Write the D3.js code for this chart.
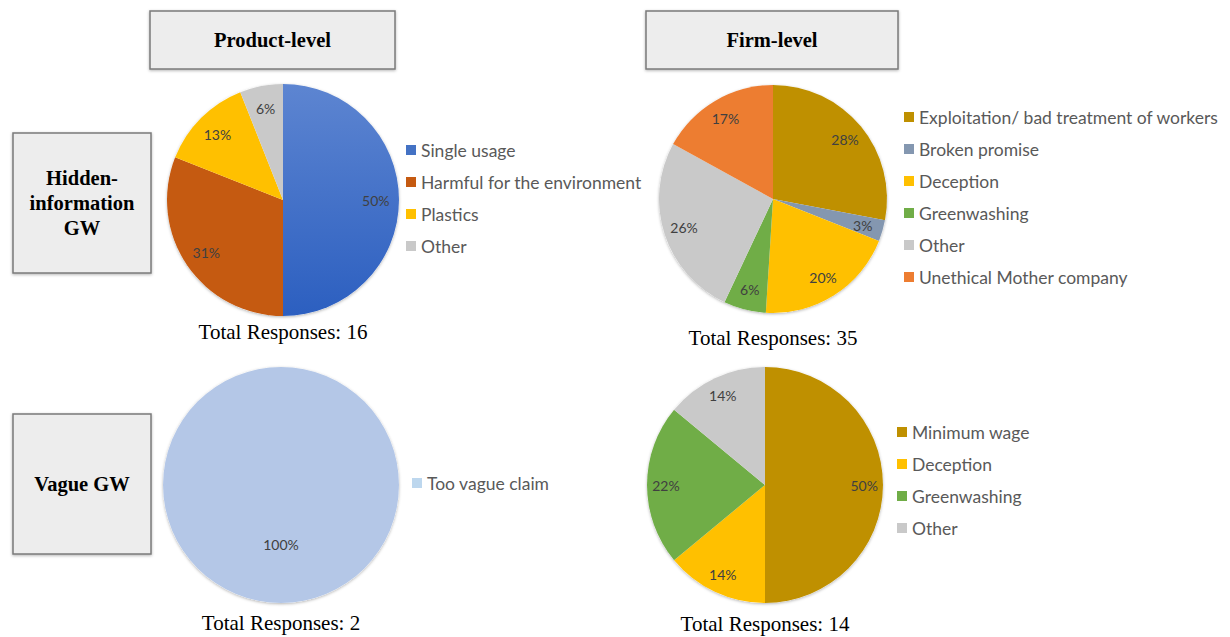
<!DOCTYPE html>
<html>
<meta charset="utf-8">
<style>
  body { margin: 0; background: #fff; }
  .box { fill: #ededed; stroke: #7a7a7a; stroke-width: 1.5; }
  .boxText { font-family: "Liberation Serif", serif; font-weight: bold; font-size: 20.5px; fill: #000; }
  .total { font-family: "Liberation Serif", serif; font-size: 21px; fill: #000; }
  .pct { font-family: Lato, sans-serif; font-size: 14px; fill: #404040; }
  .leg { font-family: Lato, sans-serif; font-size: 17.5px; fill: #595959; }
</style>
<body>
<script src="https://d3js.org/d3.v7.min.js"></script>
<script>
  // product-level, hidden information
  let hiddenProductLabels = ["Single usage", "Harmful for the environment", "Plastics", "Other"];
  let hiddenProductValues = [50, 31, 13, 6];
  let hiddenProductColors = ["url(#blueGrad)", "#c55a11", "#ffc000", "#c9c9c9"];

  // firm-level, hidden information
  let hiddenFirmLabels = ["Exploitation/ bad treatment of workers", "Broken promise", "Deception", "Greenwashing", "Other", "Unethical Mother company"];
  let hiddenFirmValues = [28, 3, 20, 6, 26, 17];
  let hiddenFirmColors = ["#bf9000", "#8497b0", "#ffc000", "#70ad47", "#c9c9c9", "#ed7d31"];

  // product-level, vague
  let vagueProductLabels = ["Too vague claim"];
  let vagueProductValues = [100];
  let vagueProductColors = ["#b4c7e7"];

  // firm-level, vague
  let vagueFirmLabels = ["Minimum wage", "Deception", "Greenwashing", "Other"];
  let vagueFirmValues = [50, 14, 22, 14];
  let vagueFirmColors = ["#bf9000", "#ffc000", "#70ad47", "#c9c9c9"];

  let totals = [16, 35, 2, 14];
  let columnTitles = ["Product-level", "Firm-level"];
  let rowTitles = [["Hidden-", "information", "GW"], ["Vague GW"]];

  let width = 1230, height = 637;

  let svg = d3.select("body").append("svg")
    .attr("width", width)
    .attr("height", height);

  let defs = svg.append("defs");
  let grad = defs.append("linearGradient").attr("id", "blueGrad")
    .attr("x1", 0).attr("y1", 0).attr("x2", 0).attr("y2", 1);
  grad.append("stop").attr("offset", "0%").attr("stop-color", "#5d85d1");
  grad.append("stop").attr("offset", "100%").attr("stop-color", "#2c5fc0");

  let shadow = defs.append("filter").attr("id", "shadow")
    .attr("x", "-10%").attr("y", "-10%").attr("width", "120%").attr("height", "120%");
  shadow.append("feDropShadow").attr("dx", 0).attr("dy", 1).attr("stdDeviation", 1.5)
    .attr("flood-color", "#000").attr("flood-opacity", 0.3);

  // header boxes
  let headers = [
    { x: 150, y: 11, w: 245, h: 58, lines: [columnTitles[0]] },
    { x: 646, y: 11, w: 252, h: 58, lines: [columnTitles[1]] },
    { x: 13, y: 133, w: 138, h: 140, lines: rowTitles[0] },
    { x: 13, y: 414, w: 138, h: 140, lines: rowTitles[1] }
  ];

  headers.forEach(b => {
    svg.append("rect").attr("class", "box")
      .attr("x", b.x).attr("y", b.y).attr("width", b.w).attr("height", b.h)
      .attr("filter", "url(#shadow)");
    let lh = 25;
    let y0 = b.y + b.h / 2 - (b.lines.length - 1) * lh / 2;
    b.lines.forEach((t, i) => {
      svg.append("text").attr("class", "boxText")
        .attr("x", b.x + b.w / 2).attr("y", y0 + i * lh)
        .attr("text-anchor", "middle").attr("dominant-baseline", "central")
        .text(t);
    });
  });

  let pies = [
    { cx: 283, cy: 200, r: 116, labels: hiddenProductLabels, values: hiddenProductValues, colors: hiddenProductColors,
      legX: 406, legY: 150, total: totals[0], totalY: 332, lab: 0.8 },
    { cx: 773, cy: 199, r: 114, labels: hiddenFirmLabels, values: hiddenFirmValues, colors: hiddenFirmColors,
      legX: 904, legY: 117, total: totals[1], totalY: 338, lab: 0.82 },
    { cx: 281, cy: 485, r: 118, labels: vagueProductLabels, values: vagueProductValues, colors: vagueProductColors,
      legX: 412, legY: 483, total: totals[2], totalY: 623, lab: 0.5 },
    { cx: 765, cy: 485, r: 118, labels: vagueFirmLabels, values: vagueFirmValues, colors: vagueFirmColors,
      legX: 897, legY: 432, total: totals[3], totalY: 624, lab: 0.84 }
  ];

  let pie = d3.pie().sort(null).value(d => d.value);

  pies.forEach(p => {
    let data = p.labels.map((l, i) => ({ label: l, value: p.values[i], color: p.colors[i] }));
    let arcs = pie(data);
    let arc = d3.arc().innerRadius(0).outerRadius(p.r);
    let labelArc = d3.arc().innerRadius(p.r * p.lab).outerRadius(p.r * p.lab);

    let g = svg.append("g").attr("transform", `translate(${p.cx},${p.cy})`);
    g.append("circle").attr("r", p.r).attr("fill", "#fff").attr("filter", "url(#shadow)");
    g.selectAll("path.slice").data(arcs).enter().append("path")
      .attr("class", "slice")
      .attr("d", arc)
      .attr("fill", d => d.data.color);

    g.selectAll("text.pct").data(arcs).enter().append("text")
      .attr("class", "pct")
      .attr("transform", d => {
        let c = labelArc.centroid(d);
        if (d.endAngle - d.startAngle >= 2 * Math.PI - 1e-6) c = [0, p.r * p.lab];
        return `translate(${c[0]},${c[1]})`;
      })
      .attr("text-anchor", "middle").attr("dominant-baseline", "central")
      .text(d => d.data.value + "%");

    // legend
    let leg = svg.append("g").attr("transform", `translate(${p.legX},${p.legY})`);
    let items = leg.selectAll("g").data(data).enter().append("g")
      .attr("transform", (d, i) => `translate(0,${i * 32})`);
    items.append("rect").attr("x", 0).attr("y", -5).attr("width", 10).attr("height", 10)
      .attr("fill", d => d.color === "url(#blueGrad)" ? "#4472c4" : (d.color === "#b4c7e7" ? "#bdd7ee" : d.color));
    items.append("text").attr("class", "leg")
      .attr("x", 15).attr("y", 0).attr("dominant-baseline", "central")
      .text(d => d.label);

    svg.append("text").attr("class", "total")
      .attr("x", p.cx).attr("y", p.totalY)
      .attr("text-anchor", "middle").attr("dominant-baseline", "central")
      .text("Total Responses: " + p.total);
  });
</script>
</body>
</html>
